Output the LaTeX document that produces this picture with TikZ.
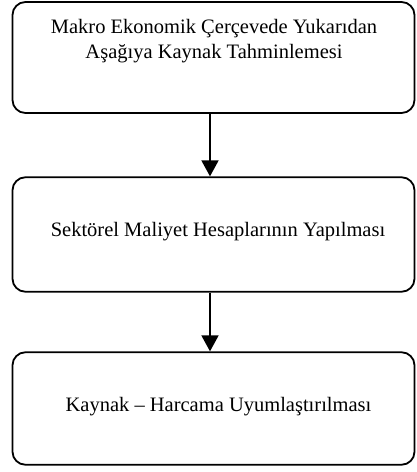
\documentclass[tikz,border=0pt]{standalone}
\usepackage{fontspec}
\setmainfont{Liberation Serif}
\usetikzlibrary{arrows.meta}
\begin{document}
\begin{tikzpicture}[x=1pt,y=-1pt,
  box/.style={draw, line width=1.8pt, rounded corners=13pt, inner sep=0pt, minimum width=402pt},
  lbl/.style={align=center, inner sep=0pt, font=\fontsize{20.5}{25}\selectfont},
  arr/.style={line width=1.8pt, -{Triangle[length=16pt,width=17pt]}}]
\useasboundingbox (0,0) rectangle (417,472);
\node[box, minimum height=111pt] (b1) at (213.5,57.5) {};
\node[box, minimum height=114.5pt] (b2) at (213.5,234.5) {};
\node[box, minimum height=112.5pt] (b3) at (213.5,408.5) {};
\node[lbl] (t1) at (214,41) {Makro Ekonomik Çerçevede Yukarıdan\\Aşağıya Kaynak Tahminlemesi};
\node[lbl] (t2) at (218,232) {Sektörel Maliyet Hesaplarının Yapılması};
\node[lbl] (t3) at (218.5,407) {Kaynak – Harcama Uyumlaştırılması};
\draw[arr] ([xshift=-3.5pt]b1.south) -- ([xshift=-3.5pt]b2.north);
\draw[arr] ([xshift=-3.5pt]b2.south) -- ([xshift=-3.5pt]b3.north);
\end{tikzpicture}
\end{document}
